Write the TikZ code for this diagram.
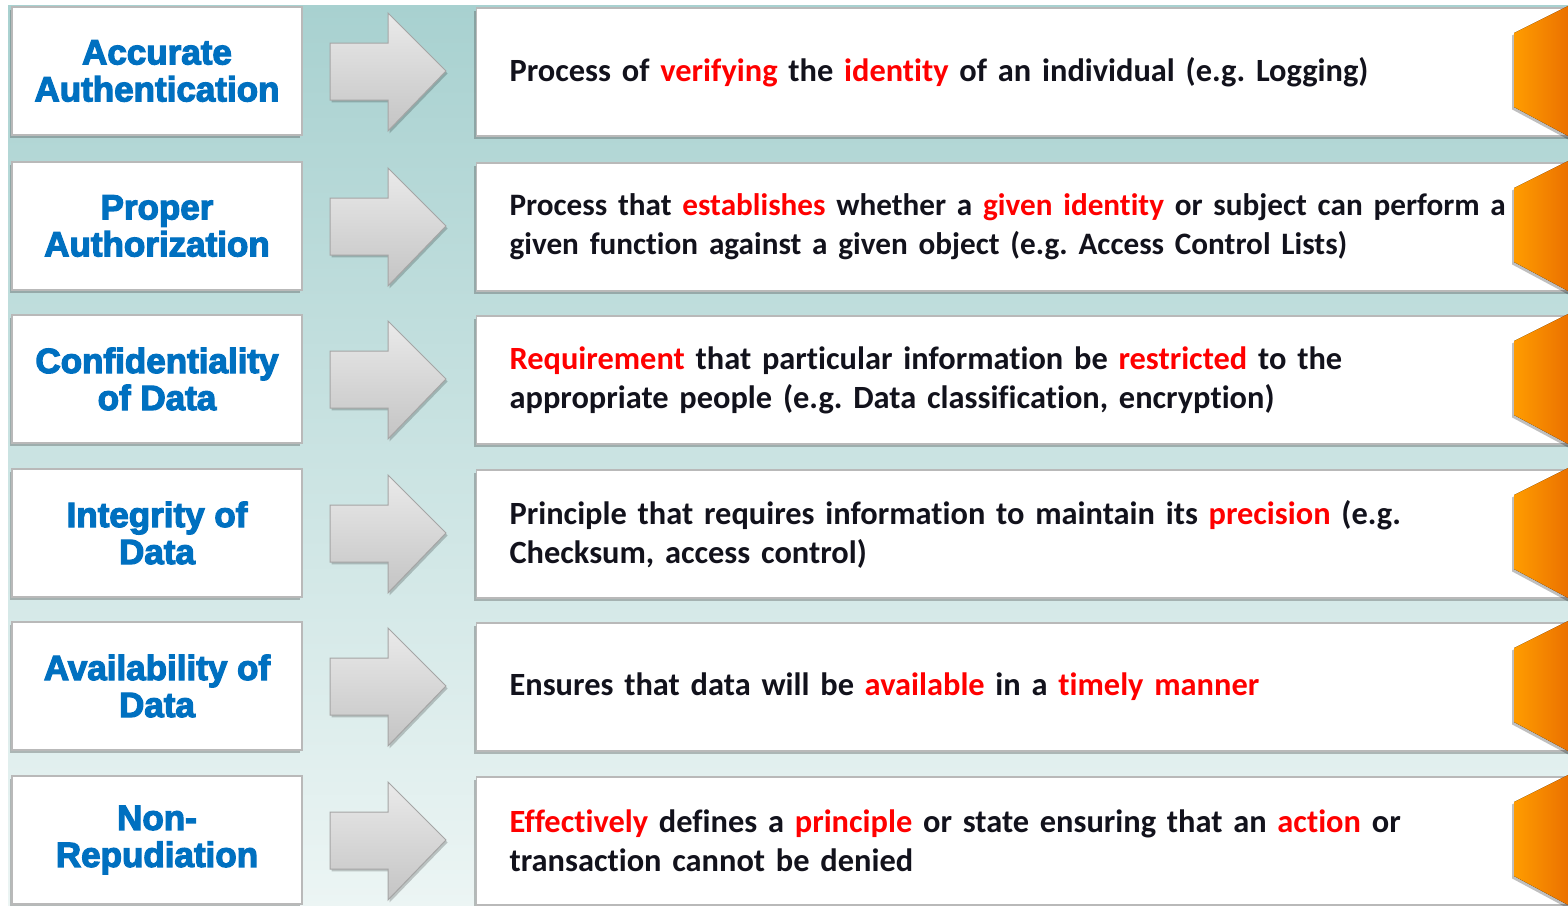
\documentclass[tikz,border=0pt]{standalone}
\usepackage{fontspec}
\setmainfont{Carlito}[Ligatures=NoCommon]
\newfontface\heavyfont{Liberation Sans Bold}[FakeBold=3.5]
\usetikzlibrary{shadows}

\definecolor{tealtop}{RGB}{168,209,208}
\definecolor{tealbot}{RGB}{236,245,244}
\definecolor{lblblue}{RGB}{0,112,192}
\definecolor{keyred}{RGB}{255,0,0}
\definecolor{bodyink}{RGB}{18,18,28}
\definecolor{boxline}{RGB}{185,185,185}
\definecolor{arrowtop}{RGB}{234,234,234}
\definecolor{arrowbot}{RGB}{196,196,196}
\definecolor{arrowline}{RGB}{165,165,165}
\definecolor{orangeL}{RGB}{255,156,0}
\definecolor{orangeR}{RGB}{234,112,0}

\newcommand\kw[1]{\textcolor{keyred}{#1}}
\newcommand\descsize[1]{\fontsize{#1}{19.5}\selectfont}

% one row: term box, grey arrow, description box, orange tab
\newcommand\secrow[4]{%
  \node[termbox] (l#1) at (157,#2) {#3};
  \draw[greyarrow] (330,#2-28) -- (388,#2-28) -- (388,#2-58) -- (446,#2)
        -- (388,#2+60) -- (388,#2+29) -- (330,#2+29) -- cycle;
  \node[descbox] (r#1) at (476,#2+1) {#4};
  \fill[tabshade] (1514,#2-38) -- (1570,#2-66) -- (1570,#2+66) -- (1514,#2+36) -- cycle;
}

\begin{document}
\frenchspacing
\begin{tikzpicture}[x=0.5pt,y=-0.5pt,
  termbox/.style={draw=boxline, line width=0.6pt, fill=white,
    minimum width=145pt, minimum height=64pt, inner sep=0pt,
    align=center, text=lblblue, font=\heavyfont\fontsize{17.5}{18.5}\selectfont,
    drop shadow={shadow xshift=-1.2pt, shadow yshift=-1.6pt, opacity=0.35, fill=black!70}},
  descbox/.style={draw=boxline, line width=0.6pt, fill=white, anchor=west,
    minimum height=64pt, text width=530pt, inner xsep=16.5pt, inner ysep=0pt,
    align=left, text=bodyink, font=\bfseries\descsize{16.2},
    drop shadow={shadow xshift=-1.2pt, shadow yshift=-1.6pt, opacity=0.35, fill=black!70}},
  greyarrow/.style={top color=arrowtop, bottom color=arrowbot, draw=arrowline,
    line width=0.5pt, line join=miter,
    drop shadow={shadow xshift=0.8pt, shadow yshift=-1.2pt, opacity=0.2, fill=black}},
  tabshade/.style={left color=orangeL, right color=orangeR,
    drop shadow={shadow xshift=-1pt, shadow yshift=-1.2pt, opacity=0.25, fill=black}}
]
\useasboundingbox (0,0) rectangle (1568,905);
\clip (0,0) rectangle (1568,905);
\fill[white] (0,0) rectangle (1568,905);
\fill[top color=tealtop, bottom color=tealbot] (8,5) rectangle (1570,907);

\secrow{1}{71}{Accurate\\Authentication}
  {Process of \kw{verifying} the \kw{identity} of an individual (e.g. Logging)}
\secrow{2}{226}{Proper\\Authorization}
  {\descsize{15.6}Process that \kw{establishes} whether a \kw{given identity} or subject can perform a\\
   given function against a given object (e.g. Access Control Lists)}
\secrow{3}{379}{Confidentiality\\of Data}
  {\kw{Requirement} that particular information be \kw{restricted} to the\\
   appropriate people (e.g. Data classification, encryption)}
\secrow{4}{533}{Integrity of\\Data}
  {Principle that requires information to maintain its \kw{precision} (e.g.\\
   Checksum, access control)}
\secrow{5}{686}{Availability of\\Data}
  {Ensures that data will be \kw{available} in a \kw{timely manner}}
\secrow{6}{840}{Non-\\Repudiation}
  {\kw{Effectively} defines a \kw{principle} or state ensuring that an \kw{action} or\\
   transaction cannot be denied}
\end{tikzpicture}
\end{document}
